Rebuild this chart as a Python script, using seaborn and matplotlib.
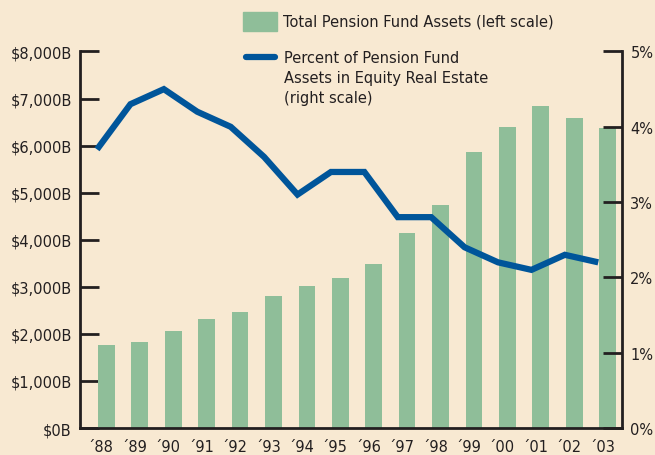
import numpy as np
import pandas as pd
import seaborn as sns
import matplotlib.pyplot as plt
from matplotlib import font_manager
from matplotlib.patches import Rectangle
from matplotlib.lines import Line2D
from matplotlib.ticker import FuncFormatter

# data
years = ["\u00b488", "\u00b489", "\u00b490", "\u00b491", "\u00b492", "\u00b493", "\u00b494", "\u00b495",
         "\u00b496", "\u00b497", "\u00b498", "\u00b499", "\u00b400", "\u00b401", "\u00b402", "\u00b403"]
assets = [1760, 1830, 2060, 2310, 2460, 2800, 3010, 3180,
          3490, 4140, 4730, 5860, 6390, 6840, 6580, 6370]
pct_real_estate = [3.7, 4.3, 4.5, 4.2, 4.0, 3.6, 3.1, 3.4,
                   3.4, 2.8, 2.8, 2.4, 2.2, 2.1, 2.3, 2.2]

bg = "#F8E9D2"
bar_color = "#8FBE99"
line_color = "#00559A"
ink = "#231F20"

sns.set_theme(style="white")
names = {f.name for f in font_manager.fontManager.ttflist}
fam = "Liberation Sans Narrow" if "Liberation Sans Narrow" in names else "DejaVu Sans"
plt.rcParams["font.family"] = [fam, "DejaVu Sans"]

df = pd.DataFrame({"year": years, "assets": assets})
pos = np.arange(len(years))

fig = plt.figure(figsize=(6.55, 4.56), dpi=100, facecolor=bg)
ax = fig.add_axes([0.1221, 0.0592, 0.8275, 0.8257])
ax.set_facecolor(bg)

sns.barplot(data=df, x="year", y="assets", color=bar_color, saturation=1,
            width=0.5, linewidth=0, ax=ax)
ax.set_ylim(0, 8000)
ax.set_xlim(-0.79, 15.43)
ax.set_xlabel("")
ax.set_ylabel("")
ax.set_yticks(np.arange(0, 8001, 1000))
ax.yaxis.set_major_formatter(FuncFormatter(lambda v, p: f"${int(v):,}B"))

# tick marks at bar right edges, labels a bit left of the bar centers
ax.set_xticks(pos + 0.25)
ax.set_xticklabels([])
ax.set_xticks(pos - 0.17, minor=True)
ax.set_xticklabels(years, minor=True)
ax.tick_params(axis="x", which="major", direction="in", length=8, width=2, color=ink)
ax.tick_params(axis="x", which="minor", length=0, pad=8, labelsize=10.5, labelcolor=ink)
ax.tick_params(axis="y", direction="in", length=14, width=2, color=ink,
               pad=6, labelsize=10.5, labelcolor=ink, left=True)

ax2 = ax.twinx()
sns.lineplot(x=pos - 0.28, y=pct_real_estate, color=line_color, linewidth=4.5,
             ax=ax2, solid_joinstyle="miter", solid_capstyle="butt")
ax2.set_ylim(0, 5)
ax2.set_yticks(np.arange(0, 6, 1))
ax2.yaxis.set_major_formatter(FuncFormatter(lambda v, p: f"{int(v)}%"))
ax2.tick_params(axis="y", direction="in", length=14, width=2, color=ink,
                pad=6, labelsize=10.5, labelcolor=ink, right=True)
ax2.set_xlim(-0.79, 15.43)

for a in (ax, ax2):
    a.spines["top"].set_visible(False)
    for s in ("left", "right", "bottom"):
        a.spines[s].set_color(ink)
        a.spines[s].set_linewidth(2)
    a.grid(False)
ax2.spines["left"].set_visible(False)
ax2.spines["bottom"].set_visible(False)
ax.spines["right"].set_visible(False)

# legend, drawn by hand so the line key sits on the first text line
fig.add_artist(Rectangle((243 / 655, 1 - 32 / 456), 34 / 655, 19 / 456,
                         transform=fig.transFigure, color=bar_color))
fig.text(283 / 655, 1 - 22 / 456, "Total Pension Fund Assets (left scale)",
         va="center", ha="left", fontsize=10.5, color=ink)
fig.add_artist(Line2D([246 / 655, 275 / 655], [1 - 58 / 456, 1 - 58 / 456],
                      transform=fig.transFigure, color=line_color,
                      linewidth=4.5, solid_capstyle="round"))
fig.text(284 / 655, 1 - 51 / 456,
         "Percent of Pension Fund\nAssets in Equity Real Estate\n(right scale)",
         va="top", ha="left", fontsize=10.5, color=ink, linespacing=1.4)

fig.savefig("out.png", dpi=100, facecolor=bg)
